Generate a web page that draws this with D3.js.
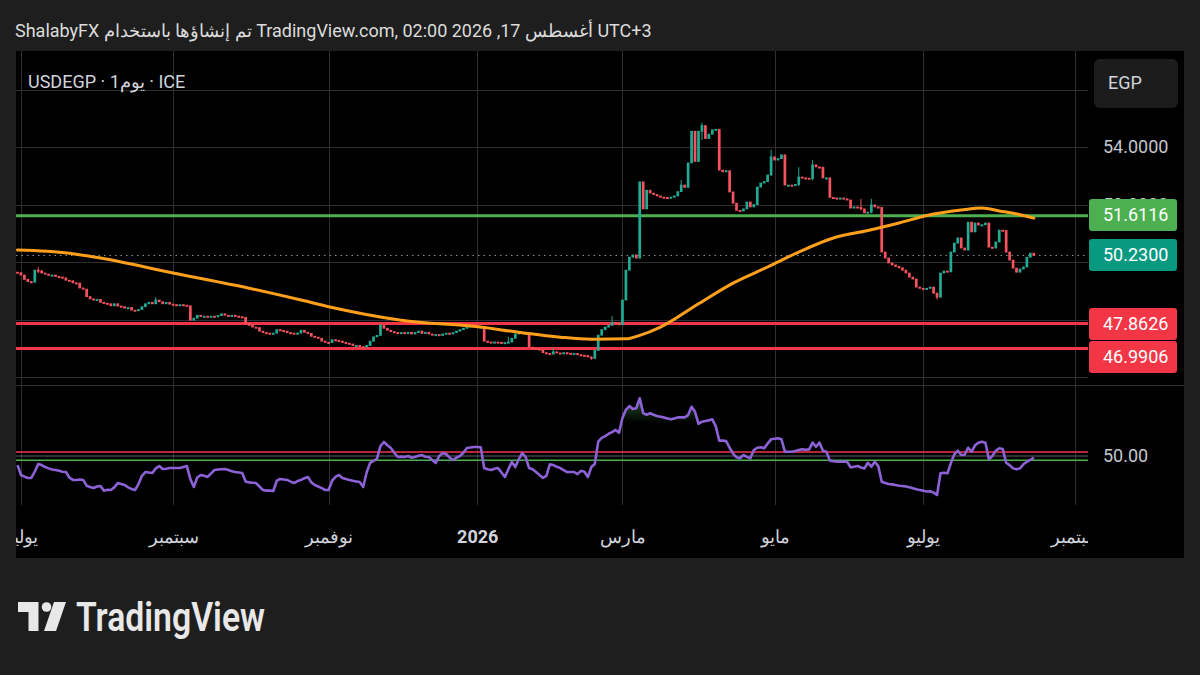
<!DOCTYPE html>
<html>
<head>
<meta charset="utf-8">
<script src="https://cdn.jsdelivr.net/npm/d3@7"></script>
<style>
  body { margin: 0; background: #1e1e1e; }
  svg { display: block; font-family: Roboto, "Noto Sans", sans-serif; }
</style>
</head>
<body>
<svg id="chart"></svg>
<script>
// daily bars (Mon-Fri) starting 30 Jun 2025
const startDate = "2025-06-30";

const closes = [
  49.63, 49.55, 49.40, 49.32, 49.30, 49.72, 49.70, 49.62, 49.58, 49.55,
  49.55, 49.50, 49.48, 49.45, 49.37, 49.35, 49.28, 49.27, 49.10, 49.06,
  48.80, 48.72, 48.68, 48.70, 48.60, 48.57, 48.55, 48.48, 48.55, 48.47,
  48.45, 48.40, 48.42, 48.33, 48.32, 48.35, 48.45, 48.55, 48.60, 48.55,
  48.68, 48.62, 48.55, 48.60, 48.54, 48.52, 48.50, 48.52, 48.50, 48.48,
  47.98, 48.05, 48.15, 48.12, 48.12, 48.10, 48.12, 48.10, 48.14, 48.20,
  48.15, 48.12, 48.15, 48.12, 48.10, 48.08, 47.87, 47.80, 47.74, 47.72,
  47.60, 47.55, 47.53, 47.52, 47.53, 47.65, 47.62, 47.60, 47.55, 47.53,
  47.50, 47.53, 47.63, 47.56, 47.52, 47.42, 47.39, 47.35, 47.25, 47.21,
  47.20, 47.30, 47.28, 47.25, 47.21, 47.18, 47.15, 47.10, 47.10, 47.06,
  47.05, 47.10, 47.25, 47.40, 47.45, 47.80, 47.70, 47.63, 47.58, 47.55,
  47.53, 47.55, 47.52, 47.56, 47.50, 47.55, 47.60, 47.52, 47.56, 47.50,
  47.46, 47.48, 47.45, 47.50, 47.53, 47.50, 47.55, 47.60, 47.65, 47.70,
  47.74, 47.78, 47.76, 47.74, 47.74, 47.25, 47.22, 47.20, 47.22, 47.21,
  47.18, 47.20, 47.22, 47.35, 47.50, 47.55, 47.53, 47.50, 47.04, 47.00,
  46.98, 46.95, 46.85, 46.82, 46.80, 46.88, 46.84, 46.82, 46.85, 46.83,
  46.80, 46.82, 46.78, 46.76, 46.75, 46.70, 46.65, 46.93, 47.46, 47.65,
  47.74, 47.80, 47.90, 47.86, 47.82, 48.68, 49.72, 50.17, 50.25, 50.14,
  52.79, 51.85, 52.50, 52.40, 52.35, 52.30, 52.26, 52.25, 52.24, 52.26,
  52.30, 52.45, 52.68, 52.60, 53.45, 54.55, 53.50, 54.55, 54.75, 54.30,
  54.45, 54.60, 54.62, 53.20, 53.14, 53.18, 52.44, 52.05, 51.80, 51.78,
  51.85, 52.09, 51.92, 52.00, 52.61, 52.75, 52.80, 53.03, 53.66, 53.55,
  53.60, 53.73, 52.68, 52.68, 52.66, 52.70, 52.96, 52.93, 52.92, 52.90,
  53.38, 53.31, 53.30, 52.93, 52.93, 52.25, 52.23, 52.22, 52.23, 52.20,
  52.16, 51.88, 51.92, 51.90, 51.85, 51.71, 51.74, 51.99, 51.92, 51.90,
  50.35, 50.14, 49.97, 49.90, 49.85, 49.80, 49.72, 49.62, 49.48, 49.41,
  49.13, 49.09, 49.08, 49.09, 49.13, 48.92, 48.78, 49.62, 49.69, 49.66,
  50.35, 50.66, 50.84, 50.49, 50.42, 51.39, 51.05, 51.36, 51.29, 51.30,
  51.36, 50.52, 50.49, 50.70, 51.11, 51.10, 50.35, 50.07, 49.79, 49.65,
  49.76, 49.83, 50.17, 50.31, 50.23
];
const firstOpen = 49.65;

// bars with visible wicks
const wickIndex = [6, 40, 105, 142, 155, 166, 172, 192, 198, 218, 226, 230, 244, 247, 266];
const wickHigh  = [49.82, 48.78, 47.85, 47.40, 47.02, 46.72, 48.12, 52.86, 54.85, 53.90, 53.30, 53.55, 52.20, 52.20, 48.92];
const wickLow   = [49.62, 48.60, 47.70, 47.18, 46.80, 46.60, 47.80, 52.55, 54.25, 53.00, 52.65, 52.85, 51.80, 51.70, 48.70];

const rsiValues = [
  44.5, 38.5, 37.5, 36.7, 36.7, 40.5, 45.2, 44.5, 43.3, 42.5,
  41.8, 41.5, 41.0, 40.5, 40.3, 37.0, 35.5, 35.5, 35.8, 35.5,
  32.0, 31.2, 30.6, 31.5, 31.8, 29.0, 29.5, 29.4, 31.0, 33.6,
  33.0, 32.4, 31.0, 30.0, 29.4, 33.0, 38.0, 40.3, 40.0, 39.7,
  42.5, 43.9, 42.1, 42.3, 42.7, 42.7, 42.7, 42.7, 43.3, 43.9,
  36.0, 31.2, 37.0, 38.5, 38.0, 37.3, 39.5, 41.5, 41.8, 42.0,
  42.1, 41.5, 40.8, 40.3, 40.0, 39.7, 34.5, 34.0, 33.8, 33.6,
  31.5, 29.4, 29.0, 29.0, 28.8, 35.0, 36.1, 35.8, 35.5, 34.5,
  33.6, 34.8, 35.5, 36.5, 37.3, 34.0, 32.4, 31.5, 30.5, 29.4,
  29.4, 35.0, 37.3, 38.5, 36.7, 36.0, 35.5, 35.0, 34.6, 34.2,
  31.2, 40.0, 45.8, 47.0, 48.5, 56.0, 58.5, 56.5, 54.8, 52.0,
  49.4, 49.6, 49.4, 50.0, 49.0, 49.4, 50.2, 50.6, 49.5, 49.4,
  47.5, 45.8, 50.0, 51.8, 51.2, 49.0, 47.6, 49.0, 50.0, 52.0,
  54.8, 55.2, 55.5, 55.5, 55.3, 42.7, 42.0, 41.5, 42.3, 42.7,
  40.0, 37.3, 42.0, 46.4, 43.3, 48.0, 51.8, 49.4, 42.7, 42.0,
  40.3, 38.5, 36.7, 38.0, 45.0, 44.5, 43.5, 42.7, 41.5, 40.3,
  40.3, 40.3, 39.0, 41.0, 40.5, 37.3, 43.3, 45.2, 58.7, 61.0,
  62.0, 63.5, 64.5, 65.8, 64.1, 73.0, 78.0, 80.3, 78.5, 79.0,
  85.0, 76.0, 75.0, 75.9, 75.0, 74.2, 73.8, 73.4, 72.8, 72.2,
  72.8, 73.4, 73.4, 73.4, 74.8, 79.9, 76.8, 69.5, 70.8, 71.2,
  71.6, 72.2, 68.0, 59.3, 59.3, 59.0, 55.0, 51.5, 49.2, 48.6,
  50.6, 49.5, 48.6, 53.6, 55.0, 55.3, 54.7, 57.5, 60.1, 60.5,
  60.7, 60.1, 52.6, 52.6, 52.6, 53.0, 53.6, 54.1, 53.8, 54.0,
  58.1, 55.6, 58.1, 53.2, 52.6, 47.2, 46.8, 46.5, 46.5, 46.5,
  46.5, 43.1, 43.5, 43.9, 43.0, 42.5, 45.9, 43.5, 46.5, 43.9,
  34.4, 33.6, 33.0, 32.8, 32.4, 32.0, 31.8, 31.5, 31.0, 30.5,
  29.8, 29.4, 29.0, 28.5, 28.6, 27.8, 26.4, 39.5, 39.9, 39.5,
  45.6, 51.0, 53.2, 50.6, 50.8, 55.0, 52.6, 56.5, 58.1, 58.7,
  58.0, 48.0, 50.0, 53.2, 54.7, 54.2, 45.9, 44.5, 42.5, 41.9,
  42.5, 45.0, 46.5, 47.6, 49.0
];

// moving average, read at selected bars
const maIndex  = [0, 15, 24, 45, 67, 82, 90, 111, 134, 145, 157, 166, 176, 180, 186, 197, 207, 217, 226, 236, 246, 255, 263, 273, 279, 284, 290, 294];
const maValues = [50.42, 50.31, 50.14, 49.62, 49.09, 48.68, 48.45, 47.98, 47.74, 47.56, 47.39, 47.32, 47.33, 47.45, 47.74, 48.55, 49.27, 49.83, 50.35, 50.84, 51.10, 51.36, 51.62, 51.81, 51.88, 51.78, 51.65, 51.53];

const resistanceLevels = [51.6116];
const supportLevels = [47.8626, 46.9906];
const lastPrice = 50.23;

const priceGrid = [46, 48, 50, 52, 54, 56];
const priceTicks = [52, 54];
const rsiBands = [52.5, 50, 47.5];
const rsiTicks = [50];

const monthDates  = ["2025-07-01", "2025-09-01", "2025-11-01", "2026-01-01", "2026-03-01", "2026-05-01", "2026-07-01", "2026-09-01"];
const monthLabels = ["يوليو", "سبتمبر", "نوفمبر", "2026", "مارس", "مايو", "يوليو", "سبتمبر"];

const W = 1200, H = 675;
const plot = {left: 16, right: 1088, top: 51, priceBottom: 384, rsiTop: 386, rsiBottom: 505};

const svg = d3.select('#chart').attr('width', W).attr('height', H);

// bar index of a calendar date (first weekday on/after it)
const start = d3.utcParse("%Y-%m-%d")(startDate);
const isWeekday = d => d.getUTCDay() !== 0 && d.getUTCDay() !== 6;
const barIndex = s => d3.utcDay.range(start, d3.utcParse("%Y-%m-%d")(s)).filter(isWeekday).length;
const monthIdx = monthDates.map(barIndex);

const x = d3.scaleLinear().domain([0, 306]).range([17.5, 1075.3]);
const y = d3.scaleLinear().domain([46, 54]).range([377.1, 147.1]);
const ry = d3.scaleLinear().domain([30, 70]).range([489, 423]);

const bars = closes.map((c, i) => {
  const o = i === 0 ? firstOpen : closes[i - 1];
  const w = wickIndex.indexOf(i);
  return {
    i, o, c,
    h: w >= 0 ? Math.max(wickHigh[w], o, c) : Math.max(o, c),
    l: w >= 0 ? Math.min(wickLow[w], o, c) : Math.min(o, c)
  };
});

const defs = svg.append('defs');
const clipRect = (id, x0, y0, w, h) => defs.append('clipPath').attr('id', id).append('rect')
  .attr('x', x0).attr('y', y0).attr('width', w).attr('height', h);
clipRect('clipPrice', plot.left, plot.top, plot.right - plot.left, plot.priceBottom - plot.top);
clipRect('clipRsi', plot.left, plot.rsiTop, plot.right - plot.left, plot.rsiBottom - plot.rsiTop);
clipRect('clipTime', plot.left, 505, plot.right - plot.left, 53);
clipRect('clipOB', plot.left, plot.rsiTop, plot.right - plot.left, ry(70) - plot.rsiTop);
clipRect('clipOS', plot.left, ry(30), plot.right - plot.left, plot.rsiBottom - ry(30));

const gOB = defs.append('linearGradient').attr('id', 'gradOB')
  .attr('gradientUnits', 'userSpaceOnUse').attr('x1', 0).attr('x2', 0).attr('y1', ry(85)).attr('y2', ry(70));
gOB.append('stop').attr('offset', 0).attr('stop-color', '#4caf50').attr('stop-opacity', 0.45);
gOB.append('stop').attr('offset', 1).attr('stop-color', '#4caf50').attr('stop-opacity', 0.0);
const gOS = defs.append('linearGradient').attr('id', 'gradOS')
  .attr('gradientUnits', 'userSpaceOnUse').attr('x1', 0).attr('x2', 0).attr('y1', ry(30)).attr('y2', ry(15));
gOS.append('stop').attr('offset', 0).attr('stop-color', '#f23645').attr('stop-opacity', 0.0);
gOS.append('stop').attr('offset', 1).attr('stop-color', '#f23645').attr('stop-opacity', 0.45);

// chart background
svg.append('rect').attr('x', 16).attr('y', 51).attr('width', 1168).attr('height', 507).attr('fill', '#000');

// header
svg.append('text').attr('x', 15).attr('y', 37)
  .attr('fill', '#dcdcdc').attr('font-size', 18)
  .text('ShalabyFX تم إنشاؤها باستخدام TradingView.com, أغسطس 17, 2026 02:00 UTC+3');

// grid
const grid = svg.append('g').attr('stroke', '#2e2e2e').attr('stroke-width', 1);
grid.selectAll('.vg').data(monthIdx.filter(d => x(d) > plot.left && x(d) < plot.right)).join('line')
  .attr('x1', d => Math.round(x(d)) + 0.5).attr('x2', d => Math.round(x(d)) + 0.5)
  .attr('y1', plot.top).attr('y2', plot.rsiBottom);
grid.selectAll('.hg').data(priceGrid).join('line')
  .attr('x1', plot.left).attr('x2', plot.right)
  .attr('y1', d => Math.round(y(d)) + 0.5).attr('y2', d => Math.round(y(d)) + 0.5);
svg.append('line').attr('x1', plot.left).attr('x2', 1184).attr('y1', 385.5).attr('y2', 385.5)
  .attr('stroke', '#2e2e2e');

// price pane
const price = svg.append('g').attr('clip-path', 'url(#clipPrice)');

price.append('line')
  .attr('x1', plot.left).attr('x2', plot.right)
  .attr('y1', y(lastPrice)).attr('y2', y(lastPrice))
  .attr('stroke', '#8a8f98').attr('stroke-width', 1).attr('stroke-dasharray', '1.5,4');

price.selectAll('.res').data(resistanceLevels).join('line')
  .attr('x1', plot.left).attr('x2', plot.right)
  .attr('y1', d => y(d)).attr('y2', d => y(d))
  .attr('stroke', '#4caf50').attr('stroke-width', 3);
price.selectAll('.sup').data(supportLevels).join('line')
  .attr('x1', plot.left).attr('x2', plot.right)
  .attr('y1', d => y(d)).attr('y2', d => y(d))
  .attr('stroke', '#f23645').attr('stroke-width', 3);

const up = '#22ab94', down = '#f7525f';
const candle = price.selectAll('.c').data(bars).join('g')
  .attr('fill', d => d.c >= d.o ? up : down)
  .attr('stroke', d => d.c >= d.o ? up : down);
candle.append('line')
  .attr('x1', d => x(d.i)).attr('x2', d => x(d.i))
  .attr('y1', d => y(d.h)).attr('y2', d => y(d.l))
  .attr('stroke-width', 1);
candle.append('rect')
  .attr('x', d => x(d.i) - 1.35).attr('width', 2.7)
  .attr('y', d => y(Math.max(d.o, d.c)) - 0.4)
  .attr('height', d => Math.max(2, Math.abs(y(d.o) - y(d.c)) + 0.8))
  .attr('stroke', 'none');

const maLine = d3.line().x(d => x(d[0])).y(d => y(d[1])).curve(d3.curveMonotoneX);
price.append('path')
  .datum(maIndex.map((d, k) => [d, maValues[k]]))
  .attr('d', maLine)
  .attr('fill', 'none').attr('stroke', '#ff9f1c').attr('stroke-width', 3)
  .attr('stroke-linecap', 'round');

// legend
svg.append('text').attr('x', 28).attr('y', 88)
  .attr('fill', '#d1d4dc').attr('font-size', 18)
  .text('USDEGP · 1يوم · ICE');

// price scale
const yAxis = d3.axisRight(y).tickValues(priceTicks).tickFormat(d3.format('.4f')).tickSize(0).tickPadding(0);
svg.append('g').attr('transform', 'translate(1103,0)').call(yAxis)
  .call(g => g.select('.domain').remove())
  .call(g => g.selectAll('text').attr('fill', '#c3c6ce').attr('font-size', 18).attr('font-family', 'Roboto'));

const labels = [
  {v: resistanceLevels[0], y: 199, color: '#4caf50'},
  {v: lastPrice, y: 239, color: '#089981'},
  {v: supportLevels[0], y: 308, color: '#f23645'},
  {v: supportLevels[1], y: 341, color: '#f23645'}
];
const lab = svg.selectAll('.lab').data(labels).join('g');
lab.append('rect')
  .attr('x', 1089).attr('y', d => d.y).attr('width', 88).attr('height', 32).attr('rx', 3)
  .attr('fill', d => d.color);
lab.append('text')
  .attr('x', 1103).attr('y', d => d.y + 16).attr('dy', '0.35em')
  .attr('fill', '#fff').attr('font-size', 18)
  .text(d => d.v.toFixed(4));

svg.append('rect').attr('x', 1094).attr('y', 59).attr('width', 84).attr('height', 49).attr('rx', 6)
  .attr('fill', '#1c1c1c');
svg.append('text').attr('x', 1108).attr('y', 83).attr('dy', '0.35em')
  .attr('fill', '#d1d4dc').attr('font-size', 18).text('EGP');

// RSI pane
const rsi = svg.append('g').attr('clip-path', 'url(#clipRsi)');
const rsiPts = rsiValues.map((v, i) => [i, v]);

rsi.append('path').datum(rsiPts)
  .attr('clip-path', 'url(#clipOB)')
  .attr('d', d3.area().x(d => x(d[0])).y0(ry(70)).y1(d => ry(d[1])))
  .attr('fill', 'url(#gradOB)');
rsi.append('path').datum(rsiPts)
  .attr('clip-path', 'url(#clipOS)')
  .attr('d', d3.area().x(d => x(d[0])).y0(ry(30)).y1(d => ry(d[1])))
  .attr('fill', 'url(#gradOS)');

const bandColors = ['#f23645', '#5d606b', '#4caf50'];
rsi.selectAll('.band').data(rsiBands).join('line')
  .attr('x1', plot.left).attr('x2', plot.right)
  .attr('y1', d => ry(d)).attr('y2', d => ry(d))
  .attr('stroke', (d, k) => bandColors[k]).attr('stroke-width', (d, k) => k === 1 ? 1 : 1.5);

rsi.append('path').datum(rsiPts)
  .attr('d', d3.line().x(d => x(d[0])).y(d => ry(d[1])))
  .attr('fill', 'none').attr('stroke', '#8c62d6').attr('stroke-width', 2.6)
  .attr('stroke-linejoin', 'round');

const rAxis = d3.axisRight(ry).tickValues(rsiTicks).tickFormat(d3.format('.2f')).tickSize(0).tickPadding(0);
svg.append('g').attr('transform', 'translate(1103,0)').call(rAxis)
  .call(g => g.select('.domain').remove())
  .call(g => g.selectAll('text').attr('fill', '#c3c6ce').attr('font-size', 18).attr('font-family', 'Roboto'));

// time scale (clip on an untransformed wrapper)
const xAxis = d3.axisBottom(x).tickValues(monthIdx).tickFormat((d, k) => monthLabels[k]).tickSize(0).tickPadding(0);
svg.append('g').attr('clip-path', 'url(#clipTime)')
  .append('g').attr('transform', 'translate(0,530)')
  .call(xAxis)
  .call(g => g.select('.domain').remove())
  .call(g => g.selectAll('text')
    .attr('fill', '#d1d4dc').attr('font-size', 18).attr('font-family', 'Roboto')
    .attr('font-weight', (d, k) => monthLabels[k] === '2026' ? 700 : 400));

// watermark
const logo = svg.append('g').attr('fill', '#e8e8e8');
logo.append('path').attr('d', 'M18,602 H38.5 V631 H28.5 V612 H18 Z');
logo.append('circle').attr('cx', 46.5).attr('cy', 607).attr('r', 4.8);
logo.append('path').attr('d', 'M54,602 H66 L56,631 H44 Z');
logo.append('text').attr('x', 76).attr('y', 631)
  .attr('font-size', 40).attr('font-weight', 600)
  .attr('textLength', 189).attr('lengthAdjust', 'spacingAndGlyphs')
  .text('TradingView');
</script>
</body>
</html>
